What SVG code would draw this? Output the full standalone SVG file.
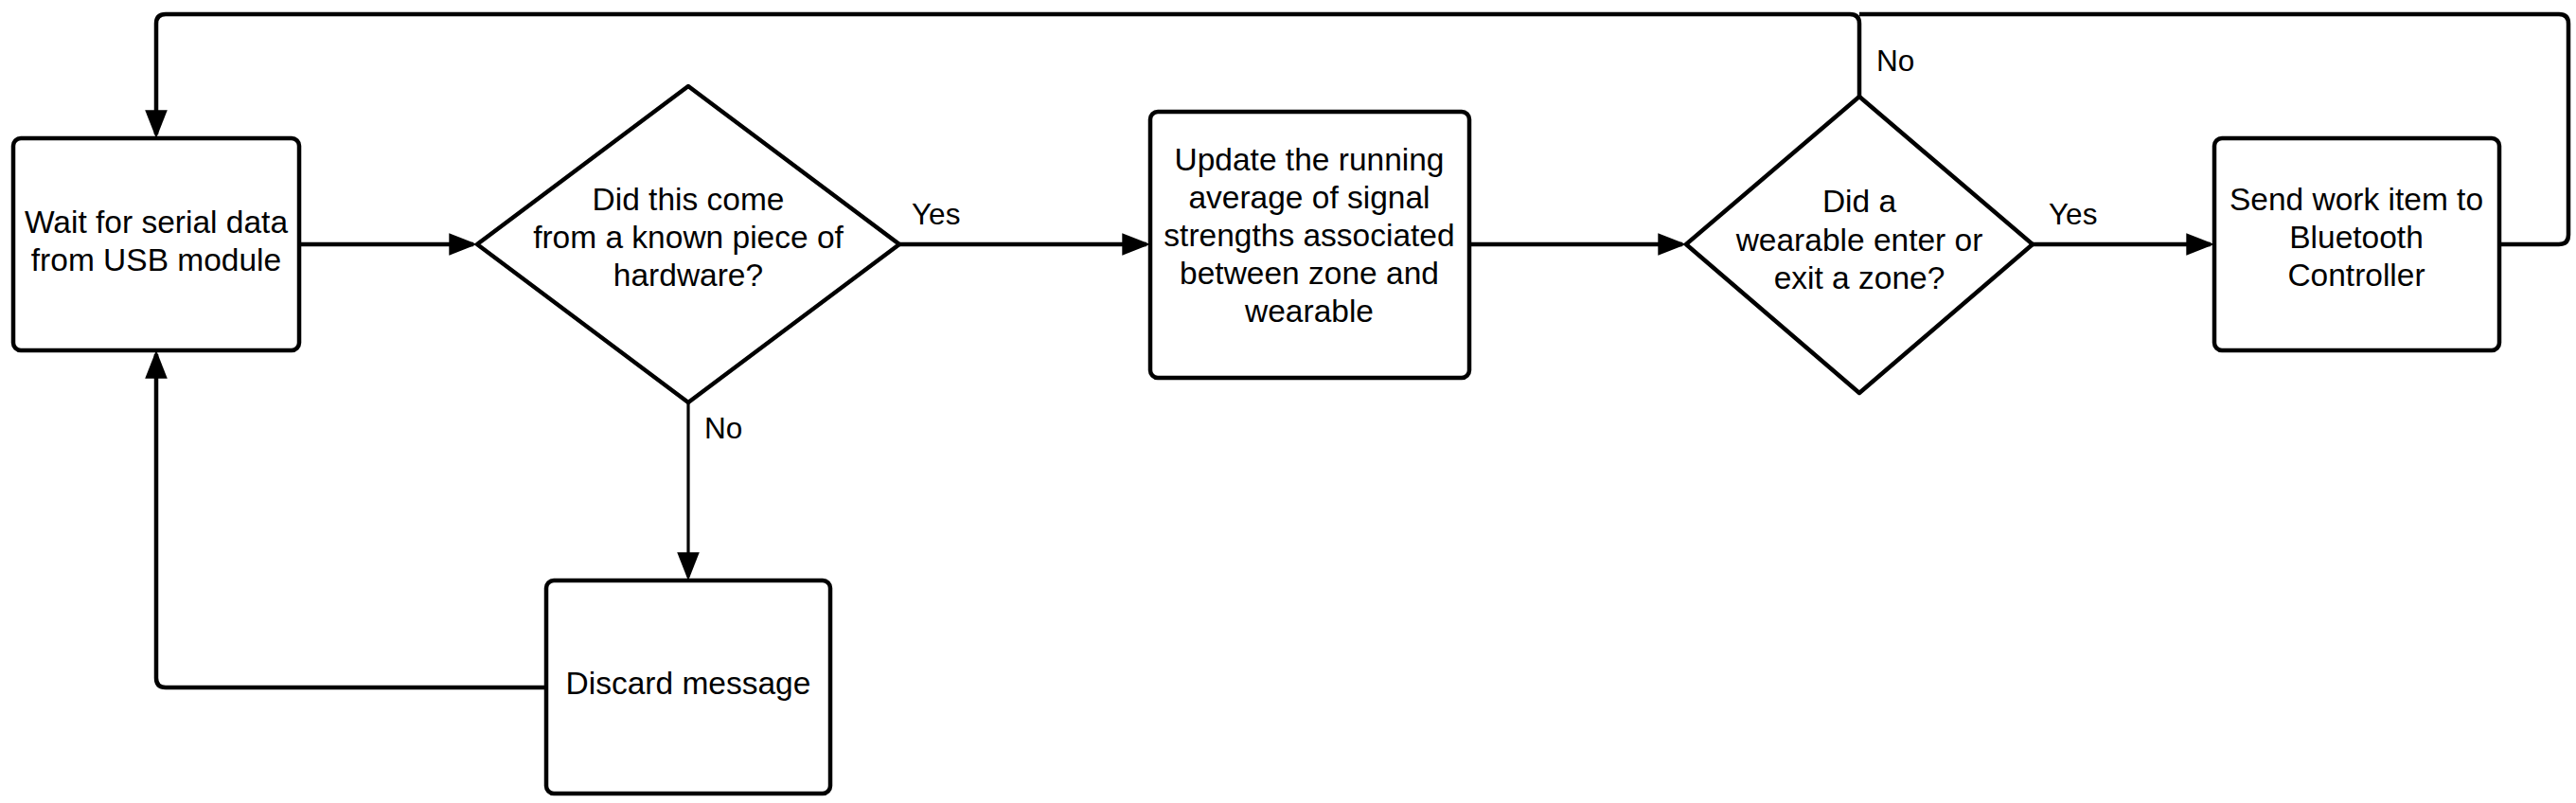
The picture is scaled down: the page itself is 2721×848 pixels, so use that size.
<svg xmlns="http://www.w3.org/2000/svg" width="2721" height="848" viewBox="0 0 2721 848">
  <style>
    .node rect, .node polygon { fill: #ffffff; stroke: #000000; stroke-width: 4.5; stroke-linejoin: round; }
    .node text { font-family: "Liberation Sans", Arial, sans-serif; font-size: 33.5px; fill: #000000; text-anchor: middle; }
    .conn path { fill: none; stroke: #000000; stroke-width: 4.5; stroke-linejoin: round; }
    .conn path.thin { stroke-width: 3.2; }
    .label { font-family: "Liberation Sans", Arial, sans-serif; font-size: 31.5px; fill: #000000; }
  </style>
  <defs>
    <marker id="arrow" markerUnits="userSpaceOnUse" markerWidth="30" markerHeight="24" viewBox="0 0 28 22" refX="24" refY="11" orient="auto">
      <path d="M0,0 L28,11 L0,22 Z" fill="#000000"/>
    </marker>
  </defs>
  <rect width="2721" height="848" fill="#ffffff"/>

  <g id="connectors" class="conn">
    <path d="M316,258 H500" marker-end="url(#arrow)"/>
    <path d="M950,258 H1211" marker-end="url(#arrow)"/>
    <path d="M1552,258 H1777" marker-end="url(#arrow)"/>
    <path d="M2147,258 H2335" marker-end="url(#arrow)"/>
    <path class="thin" d="M727,425 V609" marker-end="url(#arrow)"/>
    <path d="M577,726 H175 Q165,726 165,716 V374" marker-end="url(#arrow)"/>
    <path d="M1964,102 V25 Q1964,15 1954,15 H175 Q165,15 165,25 V142" marker-end="url(#arrow)"/>
    <path d="M2640,258 H2703 Q2713,258 2713,248 V25 Q2713,15 2703,15 H1964"/>
  </g>

  <g id="labels">
    <text class="label" x="963" y="237">Yes</text>
    <text class="label" x="2164" y="237">Yes</text>
    <text class="label" x="744" y="463">No</text>
    <text class="label" x="1982" y="75">No</text>
  </g>

  <g id="node-wait" class="node">
    <rect x="14" y="146" width="302" height="224" rx="8"/>
    <text x="165" y="246">Wait for serial data</text>
    <text x="165" y="286">from USB module</text>
  </g>

  <g id="node-known" class="node">
    <polygon points="727,91 950,258 727,425 504,258"/>
    <text x="727" y="222">Did this come</text>
    <text x="727" y="262">from a known piece of</text>
    <text x="727" y="302">hardware?</text>
  </g>

  <g id="node-update" class="node">
    <rect x="1215" y="118" width="337" height="281" rx="8"/>
    <text x="1383" y="180">Update the running</text>
    <text x="1383" y="220">average of signal</text>
    <text x="1383" y="260">strengths associated</text>
    <text x="1383" y="300">between zone and</text>
    <text x="1383" y="340">wearable</text>
  </g>

  <g id="node-zone" class="node">
    <polygon points="1964,102 2147,258 1964,415 1781,258"/>
    <text x="1964" y="224">Did a</text>
    <text x="1964" y="265">wearable enter or</text>
    <text x="1964" y="305">exit a zone?</text>
  </g>

  <g id="node-send" class="node">
    <rect x="2339" y="146" width="301" height="224" rx="8"/>
    <text x="2489" y="222">Send work item to</text>
    <text x="2489" y="262">Bluetooth</text>
    <text x="2489" y="302">Controller</text>
  </g>

  <g id="node-discard" class="node">
    <rect x="577" y="613" width="300" height="225" rx="8"/>
    <text x="727" y="733">Discard message</text>
  </g>
</svg>
